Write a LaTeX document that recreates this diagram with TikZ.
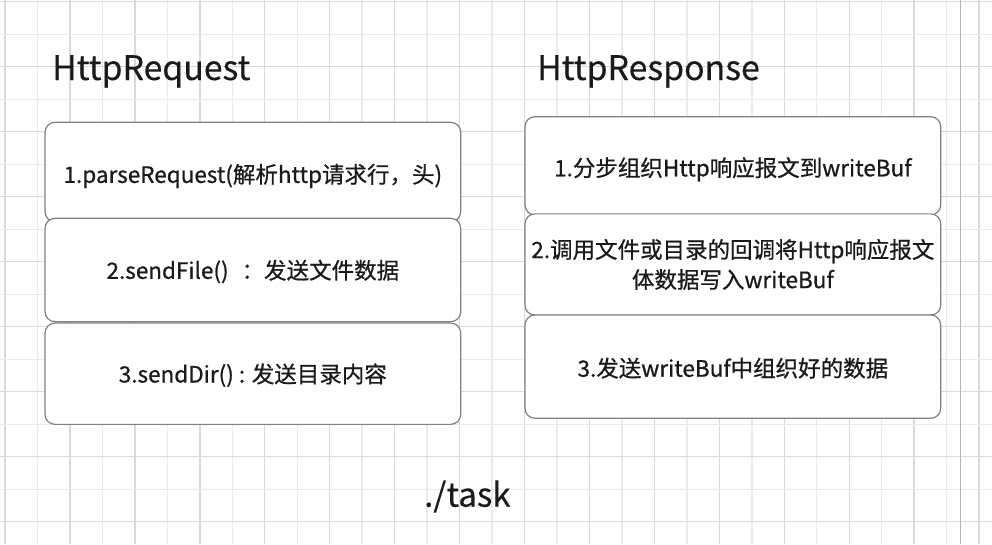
\documentclass[tikz,border=0pt]{standalone}
\usepackage{fontspec}
\setmainfont{Noto Sans CJK SC}
\newfontfamily\boxfont[FakeBold=0.7]{Noto Sans CJK SC}
\newfontfamily\titlefont[FakeBold=0.3]{Noto Sans CJK SC}
\definecolor{gridA}{HTML}{D9D9D9}
\definecolor{gridB}{HTML}{EAEAEA}
\definecolor{boxgray}{HTML}{808080}
\definecolor{ink}{HTML}{1A1A1A}
\definecolor{sepline}{HTML}{B4B4B4}
\newcommand{\lowertext}[2]{\raisebox{-#1}[\height][\depth]{#2}}
\tikzset{
  stepbox/.style={draw=boxgray, line width=1.2pt, rounded corners=10pt, fill=white,
    minimum width=415.7pt, inner sep=0pt, text=ink, font=\boxfont\fontsize{22.5}{30}\selectfont, align=center},
  title/.style={anchor=base west, inner sep=0pt, text=ink, font=\titlefont\fontsize{33.8}{38}\selectfont}
}
\begin{document}
\begin{tikzpicture}[x=1pt,y=-1pt]
\useasboundingbox (0,0) rectangle (992,544);
\fill[white] (0,0) rectangle (992,544);
% grid
\foreach \k in {0,...,30}{
  \pgfmathsetmacro{\xx}{5+32.47*\k}
  \pgfmathtruncatemacro{\gpar}{mod(\k,2)}
  \ifnum\gpar=0 \draw[gridA,line width=1.4pt] (\xx,0) -- (\xx,544);
  \else \draw[gridB,line width=1.4pt] (\xx,0) -- (\xx,544); \fi
}
\foreach \k in {0,...,16}{
  \pgfmathsetmacro{\yy}{1.7+32.5*\k}
  \pgfmathtruncatemacro{\gpar}{mod(\k,2)}
  \ifnum\gpar=0 \draw[gridA,line width=1.4pt] (0,\yy) -- (992,\yy);
  \else \draw[gridB,line width=1.4pt] (0,\yy) -- (992,\yy); \fi
}
\draw[sepline,line width=1.3pt] (960.7,0) -- (960.7,544);
% titles
\node[title] (reqtitle) at (52,80) {HttpRequest};
\node[title] (restitle) at (537,80) {HttpResponse};
\node[title,font=\titlefont\fontsize{33}{38}\selectfont] (task) at (424,506.7) {./task};
% left boxes
\node[stepbox, minimum height=99.4pt] (req1) at (252.85,172) {\lowertext{4pt}{1.parseRequest(解析http请求行，头)}};
\node[stepbox, minimum height=103.4pt] (req2) at (252.85,270) {\lowertext{1.5pt}{2.sendFile()\hspace{13pt}：发送文件数据}};
\node[stepbox, minimum height=101.3pt] (req3) at (252.85,373.7) {\lowertext{1.5pt}{3.sendDir() : 发送目录内容}};
% right boxes
\node[stepbox, minimum height=98.3pt] (res1) at (732.85,165.85) {\lowertext{3.5pt}{1.分步组织Http响应报文到writeBuf}};
\node[stepbox, minimum height=101.3pt] (res2) at (732.85,264.5) {2.调用文件或目录的回调将Http响应报文\\体数据写入writeBuf};
\node[stepbox, minimum height=103.3pt] (res3) at (732.85,366.65) {\lowertext{1.5pt}{3.发送writeBuf中组织好的数据}};
\end{tikzpicture}
\end{document}
